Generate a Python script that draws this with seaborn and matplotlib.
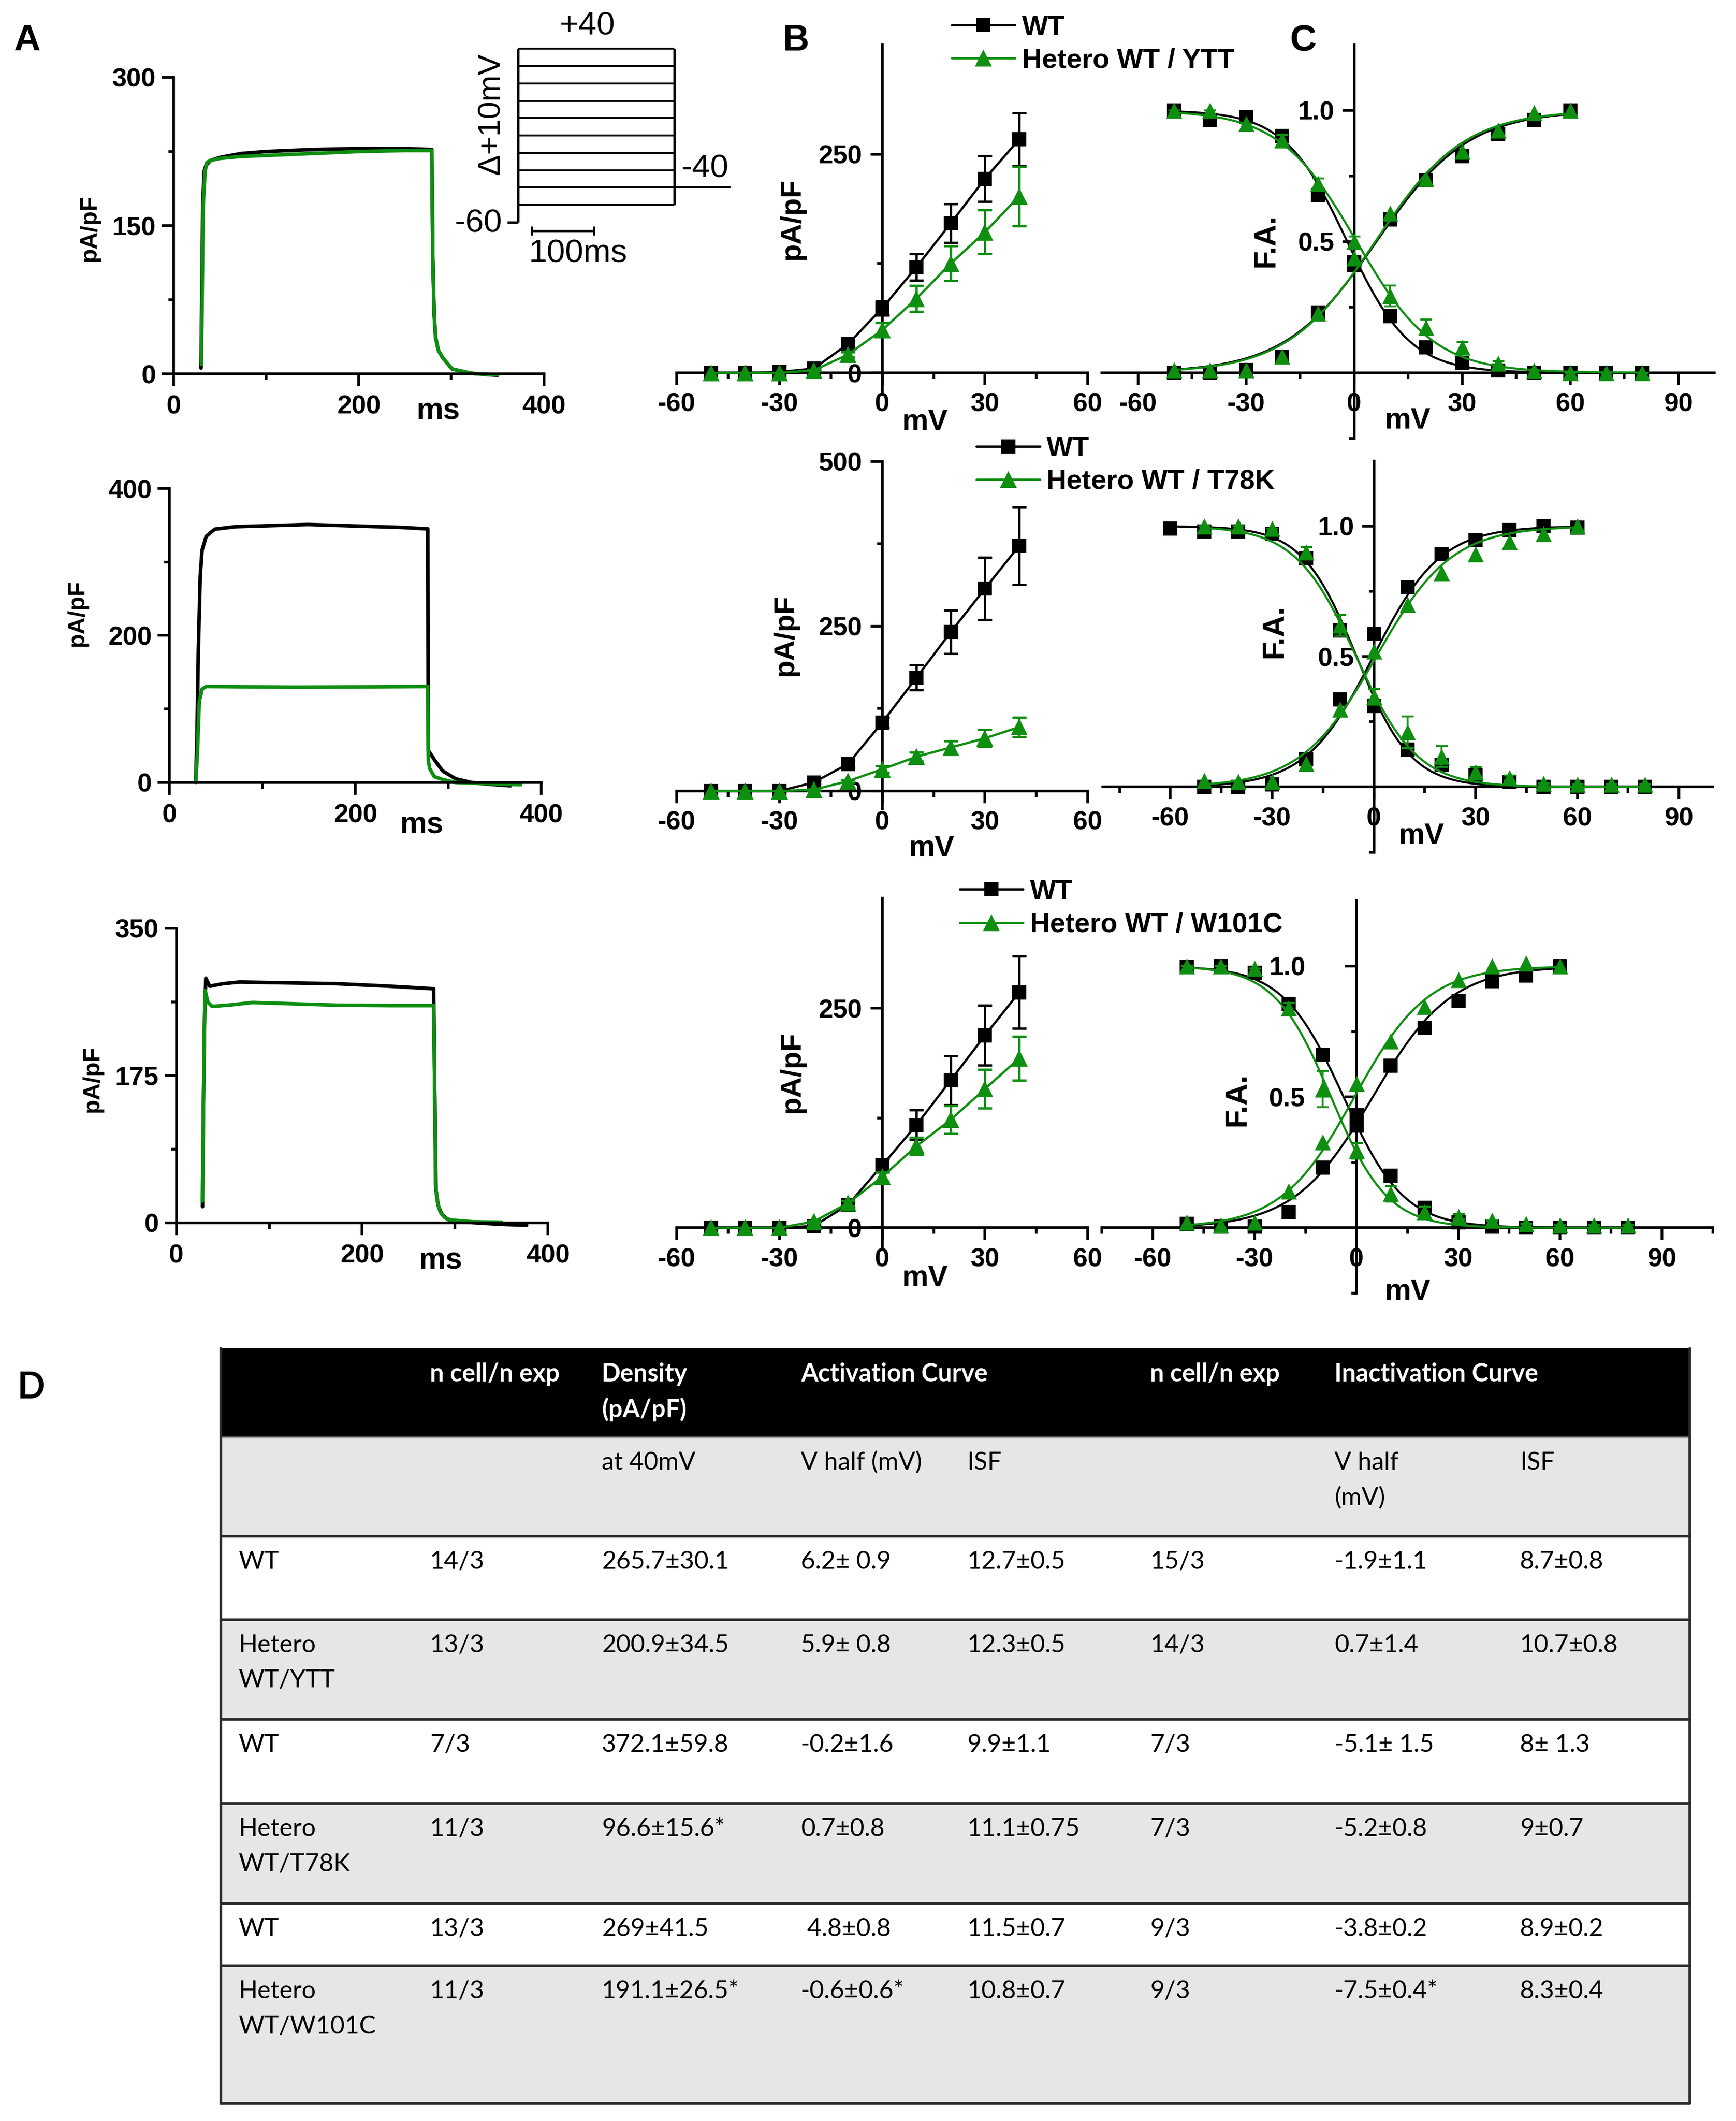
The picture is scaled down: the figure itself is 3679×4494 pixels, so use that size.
import numpy as np
import matplotlib
matplotlib.use("Agg")
import matplotlib.pyplot as plt
import seaborn as sns

# ---------------- A: whole-cell current traces (ms, pA/pF) ----------------
a1_wt_t = [29.6, 30.5, 31.5, 33, 35, 40, 50, 73, 100, 150, 200, 250, 279, 280, 281.5, 283, 286, 291, 301, 322, 350]
a1_wt_i = [6, 80, 170, 205, 211, 216, 219, 223, 225, 227, 228, 228, 227, 120, 60, 37, 24, 16, 5, 0.6, -1.4]
a1_het_t = [30, 31, 32, 34, 36, 40, 50, 73, 100, 150, 200, 250, 279, 280, 281.5, 283, 286, 291, 301, 322, 350]
a1_het_i = [10, 90, 170, 205, 214, 216, 218, 220, 221, 223, 225, 226, 226, 120, 60, 37, 24, 16, 5, 0.6, -1]

a2_wt_t = [28.2, 29.5, 31, 33, 35, 39.5, 48.6, 71, 149, 200, 250, 278, 278.5, 280, 285, 294, 308, 325, 340, 367]
a2_wt_i = [2, 60, 180, 280, 316, 335, 344.6, 348, 351, 349, 347, 345, 43.5, 41, 31, 15.7, 5, 0, -2, -4.5]
a2_het_t = [28.2, 30, 32, 35, 39.5, 135, 200, 278, 278.5, 280, 285, 294, 308, 330, 378]
a2_het_i = [0, 40, 110, 127, 130.6, 129.6, 130, 130.6, 30, 19, 8, 4, 0, -1, -3]

a3_wt_t = [28.2, 29, 30.5, 31.8, 36, 50, 68, 120, 173, 230, 277, 278.2, 279.5, 282, 286, 292, 300, 320, 350, 377]
a3_wt_i = [19, 120, 250, 290.6, 281, 284, 286, 285, 284, 281, 278, 150, 38.5, 20, 9.6, 4, 1.6, 0, -2, -3]
a3_het_t = [28.2, 29, 30.2, 31, 34, 38.6, 60, 82, 173, 230, 277, 278.2, 279, 281, 284, 289, 295, 320, 350]
a3_het_i = [25.7, 120, 230, 276, 262, 257, 259, 261.7, 258.5, 258, 258, 150, 45, 25, 12.8, 6, 3.2, 1, 0.6]

trace_ymax = [300, 400, 350]

# voltage protocol (inset)
step_levels = [-50, -40, -30, -20, -10, 0, 10, 20, 30, 40]
holding_mv = -60
tail_mv = -40
step_ms = 250
tail_end_ms = 340

# ---------------- B: current density / voltage ----------------
iv_mv = [-50, -40, -30, -20, -10, 0, 10, 20, 30, 40]
b1_wt = [0, 0, 1, 5, 33, 74, 121, 171, 222, 267]
b1_wt_err = [0, 0, 0, 1, 4, 8, 15, 22, 26, 30]
b1_het = [0, 0, 0, 3, 21, 49, 85, 125, 161, 202]
b1_het_err = [0, 0, 0, 1, 3, 8, 15, 20, 25, 34]
b2_wt = [0, 0, 0, 13, 41, 104, 172, 241, 307, 372]
b2_wt_err = [0, 0, 0, 2, 5, 8, 19, 33, 47, 59]
b2_het = [0, 0, 0, 2, 15, 33, 52, 66, 80, 97]
b2_het_err = [0, 0, 0, 1, 2, 5, 7, 10, 13, 15]
b3_wt = [0, 0, 0, 2, 26, 71, 117, 168, 219, 268]
b3_wt_err = [0, 0, 0, 1, 3, 7, 17, 28, 34, 41]
b3_het = [0, 0, 0, 7, 28, 58, 93, 123, 158, 193]
b3_het_err = [0, 0, 0, 1, 3, 5, 10, 16, 22, 25]

mutants = ["YTT", "T78K", "W101C"]

# ---------------- C: activation / inactivation (fractional) ----------------
act_mv = [-50, -40, -30, -20, -10, 0, 10, 20, 30, 40, 50, 60]
inact_mv = [-50, -40, -30, -20, -10, 0, 10, 20, 30, 40, 50, 60, 70, 80]
inact_mv_long = [-60] + inact_mv

c1_wt_act = [0, 0, 0.01, 0.06, 0.23, 0.41, 0.585, 0.733, 0.826, 0.909, 0.964, 1.0]
c1_het_act = [0.01, 0.01, 0.01, 0.063, 0.227, 0.436, 0.607, 0.738, 0.843, 0.925, 0.99, 1.0]
c1_wt_inact = [1.0, 0.964, 0.975, 0.903, 0.678, 0.42, 0.216, 0.096, 0.038, 0.008, 0, 0, 0, 0]
c1_het_inact = [1.0, 1.0, 0.95, 0.887, 0.72, 0.50, 0.293, 0.173, 0.096, 0.035, 0.008, 0, 0, 0]
c1_het_inact_err = [0, 0, 0, 0.02, 0.02, 0.02, 0.04, 0.03, 0.02, 0.01, 0, 0, 0, 0]

c2_wt_act = [0, 0, 0.01, 0.106, 0.335, 0.587, 0.767, 0.893, 0.948, 0.986, 1.0, 0.995]
c2_het_act = [0.024, 0.02, 0.02, 0.09, 0.297, 0.52, 0.70, 0.82, 0.893, 0.94, 0.97, 1.0]
c2_wt_inact = [0.991, 0.98, 0.98, 0.97, 0.876, 0.60, 0.31, 0.144, 0.084, 0.046, 0.019, 0, 0, 0, 0]
c2_het_inact = [1.0, 1.0, 0.99, 0.90, 0.62, 0.346, 0.21, 0.117, 0.057, 0.035, 0.013, 0.01, 0.01, 0.01]
c2_het_inact_err = [0, 0, 0, 0.02, 0.04, 0.03, 0.06, 0.04, 0.02, 0.01, 0, 0, 0, 0]

c3_wt_act = [0.016, 0.005, 0.005, 0.06, 0.23, 0.43, 0.62, 0.763, 0.866, 0.942, 0.964, 1.0]
c3_het_act = [0.02, 0.01, 0.02, 0.14, 0.327, 0.55, 0.714, 0.844, 0.948, 1.0, 1.01, 1.0]
c3_wt_inact = [0.997, 1.0, 0.975, 0.855, 0.66, 0.39, 0.20, 0.076, 0.02, 0.005, 0, 0, 0, 0]
c3_het_inact = [1.0, 1.0, 0.99, 0.84, 0.53, 0.294, 0.13, 0.06, 0.043, 0.027, 0.016, 0.01, 0.01, 0.01]
c3_het_inact_err = [0, 0, 0, 0.02, 0.07, 0.03, 0.03, 0.02, 0.01, 0, 0, 0, 0, 0]

# Boltzmann fit parameters (from table D)
act_vhalf_wt = [6.2, -0.2, 4.8]
act_isf_wt = [12.7, 9.9, 11.5]
act_vhalf_het = [5.9, 0.7, -0.6]
act_isf_het = [12.3, 11.1, 10.8]
inact_vhalf_wt = [-1.9, -5.1, -3.8]
inact_isf_wt = [8.7, 8.0, 8.9]
inact_vhalf_het = [0.7, -5.2, -7.5]
inact_isf_het = [10.7, 9.0, 8.3]

# ---------------- D: table ----------------
head1 = ["", "n cell/n exp", "Density\n(pA/pF)", "Activation Curve", "", "n cell/n exp", "Inactivation Curve", ""]
head2 = ["", "", "at 40mV", "V half (mV)", "ISF", "", "V half\n(mV)", "ISF"]
t_group = ["WT", "Hetero\nWT/YTT", "WT", "Hetero\nWT/T78K", "WT", "Hetero\nWT/W101C"]
t_n_act = ["14/3", "13/3", "7/3", "11/3", "13/3", "11/3"]
t_density = ["265.7±30.1", "200.9±34.5", "372.1±59.8", "96.6±15.6*", "269±41.5", "191.1±26.5*"]
t_act_vh = ["6.2± 0.9", "5.9± 0.8", "-0.2±1.6", "0.7±0.8", " 4.8±0.8", "-0.6±0.6*"]
t_act_isf = ["12.7±0.5", "12.3±0.5", "9.9±1.1", "11.1±0.75", "11.5±0.7", "10.8±0.7"]
t_n_inact = ["15/3", "14/3", "7/3", "7/3", "9/3", "9/3"]
t_inact_vh = ["-1.9±1.1", "0.7±1.4", "-5.1± 1.5", "-5.2±0.8", "-3.8±0.2", "-7.5±0.4*"]
t_inact_isf = ["8.7±0.8", "10.7±0.8", "8± 1.3", "9±0.7", "8.9±0.2", "8.3±0.4"]

GREEN = "#0e8f10"

sns.set_theme(style="ticks", rc={
    "axes.edgecolor": "black", "axes.linewidth": 4,
    "xtick.color": "black", "ytick.color": "black",
    "text.color": "black", "axes.labelcolor": "black",
    "xtick.major.width": 4, "ytick.major.width": 4,
    "xtick.minor.width": 4, "ytick.minor.width": 4,
    "xtick.major.size": 19, "ytick.major.size": 18,
    "xtick.minor.size": 9, "ytick.minor.size": 8,
})
plt.rcParams["font.family"] = ["Liberation Sans", "DejaVu Sans"]
plt.rcParams["font.weight"] = "bold"

W, H = 1280.0, 1563.0
fig = plt.figure(figsize=(36.79, 44.94), dpi=100)


def add_box(l, t, r, b):
    ax = fig.add_axes([l / W, 1 - b / H, (r - l) / W, (b - t) / H])
    ax.patch.set_alpha(0)
    ax.box_px = (l, t, r, b)
    return ax


def put_label(ax, which, text, xs, ys, size):
    l, t, r, b = ax.box_px
    xa, ya = (xs - l) / (r - l), (b - ys) / (b - t)
    if which == "y":
        ax.set_ylabel(text, fontsize=size, fontweight="bold")
        ax.yaxis.set_label_coords(xa, ya)
        ax.yaxis.label.set_va("center")
    else:
        ax.set_xlabel(text, fontsize=size, fontweight="bold")
        ax.xaxis.set_label_coords(xa, ya)
        ax.xaxis.label.set_va("center")


def fmt(v):
    return f"{v:g}"


# ---------------- panel A ----------------
a_boxes = [(128, 57, 401, 275.6), (125, 360, 399, 576.6), (130, 684, 404, 901)]
a_traces = [(a1_wt_t, a1_wt_i, a1_het_t, a1_het_i),
            (a2_wt_t, a2_wt_i, a2_het_t, a2_het_i),
            (a3_wt_t, a3_wt_i, a3_het_t, a3_het_i)]
a_ylab = [(66, 168), (57, 452), (68, 795)]
a_xlab = [(323, 303), (311, 608), (325, 929)]
for k in range(3):
    ax = add_box(*a_boxes[k])
    wt_t, wt_i, het_t, het_i = a_traces[k]
    sns.lineplot(x=wt_t, y=wt_i, ax=ax, color="black", lw=5.5, sort=False, estimator=None)
    sns.lineplot(x=het_t, y=het_i, ax=ax, color=GREEN, lw=5.5, sort=False, estimator=None)
    for ln in ax.lines:
        ln.set_clip_on(False)
    ym = trace_ymax[k]
    ax.set_xlim(0, 400)
    ax.set_ylim(0, ym)
    ax.set_xticks([0, 200, 400])
    ax.set_xticks([100, 300], minor=True)
    ax.set_yticks([0, ym / 2, ym])
    ax.set_yticklabels([fmt(v) for v in [0, ym / 2, ym]])
    ax.set_yticks([ym / 4, 3 * ym / 4], minor=True)
    ax.set_xticklabels(["0", "200", "400"])
    ax.tick_params(axis="both", which="both", labelsize=40)
    ax.tick_params(axis="x", pad=13)
    ax.tick_params(axis="y", pad=9)
    sns.despine(ax=ax)
    put_label(ax, "y", "pA/pF", *a_ylab[k], 36)
    put_label(ax, "x", "ms", *a_xlab[k], 46)

# voltage protocol inset
ax = add_box(340, 10, 545, 195)
ax.set_xlim(-91.3, 354.3)
ax.set_ylim(-84.4, 60.3)
ax.axis("off")
ax.hlines(step_levels, 0, step_ms, color="black", lw=3)
ax.vlines(0, holding_mv, max(step_levels), color="black", lw=3.5)
ax.vlines(step_ms, min(step_levels), max(step_levels), color="black", lw=3.5)
ax.hlines(tail_mv, step_ms, tail_end_ms, color="black", lw=3)
ax.hlines(holding_mv, -17, 0, color="black", lw=3.5)
ax.hlines(-65, 22, 122, color="black", lw=3.5)
ax.vlines([22, 122], -67.5, -62.5, color="black", lw=3)
ax.text(111, 53, "+40", ha="center", va="center", fontsize=50, fontweight="normal")
ax.text(300, -29, "-40", ha="center", va="center", fontsize=50, fontweight="normal")
ax.text(-63, -60.6, "-60", ha="center", va="center", fontsize=50, fontweight="normal")
ax.text(96, -78, "100ms", ha="center", va="center", fontsize=50, fontweight="normal")
ax.text(-43, 2.4, "Δ+10mV", ha="center", va="center", rotation=90, fontsize=48, fontweight="normal")

# ---------------- panel B ----------------
b_boxes = [(499, 33, 802, 289), (499, 340, 802, 596), (499, 662, 802, 919)]
b_lims = [(-22, 375), (-27, 500), (-22, 375)]
b_major = [[0, 250], [0, 250, 500], [0, 250]]
b_minor = [[125], [125, 375], [125]]
b_series = [(b1_wt, b1_wt_err, b1_het, b1_het_err),
            (b2_wt, b2_wt_err, b2_het, b2_het_err),
            (b3_wt, b3_wt_err, b3_het, b3_het_err)]
b_ylab = [(584, 161), (579, 468), (584, 790)]
b_xlab = [(682, 311), (687, 625), (682, 942)]
leg_pos = [(701.7, 32.6), (720, 343), (707.7, 669.5)]
for k in range(3):
    ax = add_box(*b_boxes[k])
    wt, wt_err, het, het_err = b_series[k]
    for vals, errs, col, mk, ms, lab, z in [(wt, wt_err, "black", "s", 22, "WT", 3),
                                             (het, het_err, GREEN, "^", 26, f"Hetero WT / {mutants[k]}", 5)]:
        keep = [i for i, e in enumerate(errs) if e > 0]
        ax.errorbar([iv_mv[i] for i in keep], [vals[i] for i in keep], yerr=[errs[i] for i in keep],
                    fmt="none", ecolor=col, elinewidth=3.5, capsize=11, capthick=3.5, zorder=z)
        sns.lineplot(x=iv_mv, y=vals, ax=ax, color=col, lw=3.5, marker=mk, markersize=ms,
                     markeredgewidth=0, label=lab, zorder=z + 1, legend=False)
    for ln in ax.lines:
        ln.set_clip_on(False)
    ax.set_xlim(-60, 60)
    ax.set_ylim(*b_lims[k])
    ax.spines["left"].set_position(("data", 0))
    ax.spines["bottom"].set_position(("data", 0))
    ax.spines[["top", "right"]].set_visible(False)
    ax.set_xticks([-60, -30, 0, 30, 60])
    ax.set_xticklabels(["-60", "-30", "0", "30", "60"])
    ax.set_xticks([-45, -15, 15, 45], minor=True)
    ax.set_yticks(b_major[k])
    ax.set_yticklabels([fmt(v) for v in b_major[k]])
    ax.set_yticks(b_minor[k], minor=True)
    ax.tick_params(axis="both", which="both", labelsize=40)
    ax.tick_params(axis="x", pad=11)
    ax.tick_params(axis="y", pad=13)
    put_label(ax, "y", "pA/pF", *b_ylab[k], 44)
    put_label(ax, "x", "mV", *b_xlab[k], 45)
    handles, labels = ax.get_legend_handles_labels()
    fig.legend(handles[:2], labels[:2], loc="center left",
               bbox_to_anchor=(leg_pos[k][0] / W, 1 - leg_pos[k][1] / H),
               frameon=False, prop={"weight": "bold", "size": 42},
               handlelength=2.3, handletextpad=0.25, labelspacing=0.28,
               borderpad=0, borderaxespad=0)


# ---------------- panel C ----------------
def boltz_act(v, vh, k):
    return 1.0 / (1.0 + np.exp((vh - v) / k))


def boltz_inact(v, vh, k):
    return 1.0 / (1.0 + np.exp((v - vh) / k))


c_boxes = [(812.5, 33, 1264, 323), (813, 339.7, 1263, 628), (812.4, 663.7, 1263, 953)]
c_xlims = [(-70, 100), (-80, 100), (-75, 105)]
c_minor = [[-45, -15, 15, 45, 75], [-75, -45, -15, 15, 45, 75], [-75, -45, -15, 15, 45, 75, 105]]
c_series = [(c1_wt_act, c1_het_act, c1_wt_inact, c1_het_inact, c1_het_inact_err, inact_mv),
            (c2_wt_act, c2_het_act, c2_wt_inact, c2_het_inact, c2_het_inact_err, inact_mv_long),
            (c3_wt_act, c3_het_act, c3_wt_inact, c3_het_inact, c3_het_inact_err, inact_mv)]
c_ylab = [(933.5, 177), (939.5, 465), (912, 810)]
c_xlab = [(1038, 310), (1048, 616), (1038, 952)]
c_ypad = [12, 12, 60]
for k in range(3):
    ax = add_box(*c_boxes[k])
    wt_act, het_act, wt_inact, het_inact, het_inact_err, wt_inact_mv = c_series[k]
    v_act = np.linspace(min(act_mv), max(act_mv), 221)
    v_inact_wt = np.linspace(min(wt_inact_mv), max(wt_inact_mv), 281)
    v_inact_het = np.linspace(min(inact_mv), max(inact_mv), 261)
    # Boltzmann fits
    sns.lineplot(x=v_act, y=boltz_act(v_act, act_vhalf_wt[k], act_isf_wt[k]), ax=ax, color="black", lw=3.2, zorder=2)
    sns.lineplot(x=v_inact_wt, y=boltz_inact(v_inact_wt, inact_vhalf_wt[k], inact_isf_wt[k]), ax=ax, color="black", lw=3.2, zorder=2)
    sns.lineplot(x=v_act, y=boltz_act(v_act, act_vhalf_het[k], act_isf_het[k]), ax=ax, color=GREEN, lw=3.2, zorder=4)
    sns.lineplot(x=v_inact_het, y=boltz_inact(v_inact_het, inact_vhalf_het[k], inact_isf_het[k]), ax=ax, color=GREEN, lw=3.2, zorder=4)
    # points
    ax.errorbar(inact_mv, het_inact, yerr=het_inact_err, fmt="none", ecolor=GREEN,
                elinewidth=3, capsize=9, capthick=3, zorder=5)
    sns.scatterplot(x=act_mv, y=wt_act, ax=ax, color="black", marker="s", s=480, linewidth=0, zorder=3)
    sns.scatterplot(x=wt_inact_mv, y=wt_inact, ax=ax, color="black", marker="s", s=480, linewidth=0, zorder=3)
    sns.scatterplot(x=act_mv, y=het_act, ax=ax, color=GREEN, marker="^", s=600, linewidth=0, zorder=6)
    sns.scatterplot(x=inact_mv, y=het_inact, ax=ax, color=GREEN, marker="^", s=600, linewidth=0, zorder=6)
    for art in ax.collections + ax.lines:
        art.set_clip_on(False)
    ax.set_xlim(*c_xlims[k])
    ax.set_ylim(-0.25, 1.25)
    ax.spines["left"].set_position(("data", 0))
    ax.spines["bottom"].set_position(("data", 0))
    ax.spines[["top", "right"]].set_visible(False)
    ax.set_xticks([-60, -30, 0, 30, 60, 90])
    ax.set_xticklabels(["-60", "-30", "0", "30", "60", "90"])
    ax.set_xticks(c_minor[k], minor=True)
    ax.set_yticks([0.5, 1.0])
    ax.set_yticklabels(["0.5", "1.0"])
    ax.set_yticks([-0.25, 0.25, 0.75], minor=True)
    ax.tick_params(axis="both", which="both", labelsize=40)
    ax.tick_params(axis="x", pad=11)
    ax.tick_params(axis="y", pad=c_ypad[k])
    put_label(ax, "y", "F.A.", *c_ylab[k], 46)
    put_label(ax, "x", "mV", *c_xlab[k], 45)

# ---------------- panel D: table ----------------
tab_l, tab_r = 163, 1246
row_edges = [993.6, 1059, 1132, 1193.5, 1267, 1329, 1402.6, 1448.6, 1550]
row_fill = ["black", "#e6e6e6", "white", "#e6e6e6", "white", "#e6e6e6", "white", "#e6e6e6"]
col_x = [175.6, 317, 443.6, 590.5, 713, 848, 984, 1120.6]
tab = add_box(tab_l, row_edges[0], tab_r, row_edges[-1])
tab.set_xlim(tab_l, tab_r)
tab.set_ylim(row_edges[-1], row_edges[0])
tab.axis("off")
for i in range(len(row_fill)):
    tab.axhspan(row_edges[i], row_edges[i + 1], color=row_fill[i], lw=0, zorder=0)
for y in row_edges[2:-1]:
    tab.axhline(y, color="#2a2a2a", lw=4, zorder=2, clip_on=False)
tab.axhline(row_edges[1], color="#9a9a9a", lw=2, zorder=2, clip_on=False)
tab.axhline(row_edges[-1], color="#2a2a2a", lw=4, zorder=2, clip_on=False)
tab.axvline(tab_l, color="#2a2a2a", lw=4, zorder=2, clip_on=False)
tab.axvline(tab_r, color="#2a2a2a", lw=4, zorder=2, clip_on=False)

table_rows = [head1, head2] + [list(r) for r in zip(t_group, t_n_act, t_density, t_act_vh, t_act_isf,
                                                     t_n_inact, t_inact_vh, t_inact_isf)]
for i, row in enumerate(table_rows):
    for j, cell in enumerate(row):
        for m, line in enumerate(cell.split("\n")):
            tab.text(col_x[j], row_edges[i] + 19 + 26 * m, line, ha="left", va="center",
                     fontsize=38, family=["Lato", "DejaVu Sans"],
                     fontweight="bold" if i == 0 else "normal",
                     color="white" if i == 0 else "black", zorder=3)

# panel letters
for s, x, y, fam in [("A", 20, 30, None), ("B", 587, 30, None), ("C", 961, 30, None), ("D", 23, 1023, "Lato")]:
    kw = {"family": [fam, "DejaVu Sans"]} if fam else {}
    fig.text(x / W, 1 - y / H, s, ha="center", va="center", fontsize=56, fontweight="bold", **kw)

fig.savefig("out.png", dpi=100)
